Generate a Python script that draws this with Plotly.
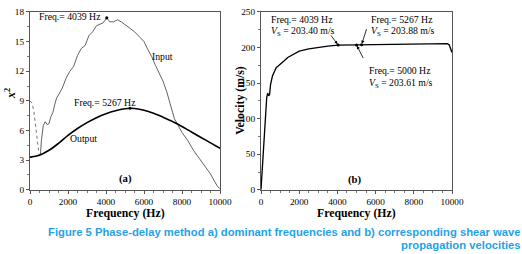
import plotly.graph_objects as go

# ---------- data ----------
# (a) dominant frequencies
input_dot_f = [0, 100, 200, 300, 400, 480, 550]
input_dot_v = [9.0, 8.8, 8.0, 6.2, 4.4, 3.5, 3.6]
input_f = [550, 600, 700, 800, 900, 1000, 1100, 1200, 1300, 1400, 1500, 1700, 1900, 2100, 2300,
           2500, 2700, 2900, 3100, 3300, 3500, 3700, 3850, 4039, 4200, 4400, 4600, 4800, 5000,
           5200, 5500, 5800, 6000, 6200, 6400, 6600, 6800, 7000, 7200, 7400, 7600, 7800, 8000,
           8300, 8600, 8900, 9200, 9500, 9700, 9850, 10000]
input_v = [3.6, 5.0, 6.5, 6.9, 6.6, 6.7, 7.4, 7.8, 8.6, 9.3, 9.6, 10.3, 11.3, 12.0, 12.5,
           13.6, 14.3, 14.6, 15.6, 16.0, 16.6, 16.8, 16.9, 17.4, 17.0, 17.0, 17.2, 17.0, 16.7,
           16.4, 16.0, 15.4, 15.0, 14.2, 13.5, 12.6, 11.8, 11.0, 9.9, 8.5, 7.2, 6.5, 5.8,
           5.0, 4.0, 3.2, 2.4, 1.6, 0.9, 0.4, 0.1]
output_f = [0, 500, 1000, 1500, 2000, 2500, 3000, 3500, 4000, 4500, 5000, 5267, 5500, 6000,
            6500, 7000, 7500, 8000, 8500, 9000, 9500, 10000]
output_v = [3.3, 3.5, 4.0, 4.7, 5.5, 6.2, 6.8, 7.3, 7.7, 8.0, 8.2, 8.25, 8.22, 8.05,
            7.75, 7.35, 6.9, 6.4, 5.85, 5.3, 4.75, 4.2]
peak_f = [4039, 5267]
peak_v = [17.4, 8.25]

# (b) shear wave velocities
vel_f = [0, 100, 200, 300, 350, 400, 450, 500, 600, 700, 800, 900, 1000, 1200, 1400, 1600,
         1800, 2000, 2500, 3000, 3500, 4039, 4500, 5000, 5267, 6000, 7000, 8000, 9000, 9500,
         9750, 9850, 9950, 10000]
vel_v = [0, 40, 95, 130, 136, 132, 134, 148, 160, 167, 172, 174, 176, 181, 186, 189,
         192, 195, 198, 200.5, 202, 203.4, 203.5, 203.61, 203.88, 204.0, 204.3, 204.6, 205.0, 205.5,
         205.5, 204, 198, 193]
mark_f = [4039, 5000, 5267]
mark_v = [203.40, 203.61, 203.88]

caption1 = "Figure 5 Phase-delay method a) dominant frequencies and b) corresponding shear wave"
caption2 = "propagation velocities"

# ---------- figure ----------
W, H = 522, 254          # design grid (reference pixels)
S = 1.026                # output scale
SERIF = "Liberation Serif"
fig = go.Figure()

fig.add_trace(go.Scatter(x=input_dot_f, y=input_dot_v, mode="lines",
                         line=dict(color="#555555", width=0.8 * S, dash="dot"),
                         xaxis="x", yaxis="y", showlegend=False))
fig.add_trace(go.Scatter(x=input_f, y=input_v, mode="lines",
                         line=dict(color="#555555", width=0.9 * S),
                         xaxis="x", yaxis="y", showlegend=False))
fig.add_trace(go.Scatter(x=output_f, y=output_v, mode="lines", line_shape="spline",
                         line=dict(color="black", width=1.6 * S),
                         xaxis="x", yaxis="y", showlegend=False))
fig.add_trace(go.Scatter(x=peak_f, y=peak_v, mode="markers",
                         marker=dict(color="black", size=3 * S),
                         xaxis="x", yaxis="y", showlegend=False))
fig.add_trace(go.Scatter(x=vel_f, y=vel_v, mode="lines",
                         line=dict(color="black", width=1.3 * S),
                         xaxis="x2", yaxis="y2", showlegend=False))
fig.add_trace(go.Scatter(x=mark_f, y=mark_v, mode="markers",
                         marker=dict(color="black", size=3 * S),
                         xaxis="x2", yaxis="y2", showlegend=False))

ydom = [67 / H, 247 / H]
axcommon = dict(showgrid=False, zeroline=False, showline=True, linecolor="#555555",
                linewidth=1, mirror=True, ticks="outside", ticklen=3 * S, tickcolor="#555555",
                tickfont=dict(family=SERIF, size=9 * S, color="black"),
                minor=dict(ticks="outside", ticklen=2 * S, tickcolor="#777777"))

fig.update_layout(
    width=round(W * S), height=round(H * S), margin=dict(l=0, r=0, t=0, b=0),
    paper_bgcolor="white", plot_bgcolor="white", showlegend=False,
    xaxis=dict(domain=[28 / W, 218 / W], range=[0, 10000], dtick=2000, tickformat="d",
               anchor="y", **axcommon),
    yaxis=dict(domain=ydom, range=[0, 18], dtick=3, anchor="x", **axcommon),
    xaxis2=dict(domain=[259 / W, 450 / W], range=[0, 10000], dtick=2000, tickformat="d",
                anchor="y2", **axcommon),
    yaxis2=dict(domain=ydom, range=[0, 250], dtick=50, anchor="x2", **axcommon),
)
fig.update_xaxes(minor_dtick=500)
fig.layout.yaxis.minor.dtick = 1.5
fig.layout.yaxis2.minor.dtick = 25

ann = []
tf = dict(family=SERIF, size=9.5 * S, color="black")
bf = dict(family=SERIF, size=11.5 * S, color="black")

def pa(x, y, text, font, **kw):
    d = dict(x=x / W, y=1 - y / H, xref="paper", yref="paper", text=text, showarrow=False,
             font=font, xanchor="center", yanchor="middle")
    d.update(kw)
    ann.append(d)

def da(x, y, text, xr, yr, font=tf, **kw):
    d = dict(x=x, y=y, xref=xr, yref=yr, text=text, showarrow=False, font=font,
             xanchor="center", yanchor="middle")
    d.update(kw)
    ann.append(d)

# axis titles
pa(123, 210, "<b>Frequency (Hz)</b>", bf)
pa(354, 210, "<b>Frequency (Hz)</b>", bf)
pa(9, 90, "<b><i>x</i><sup>2</sup></b>", bf, textangle=-90)
pa(238, 97, "<b>Velocity (m/s)</b>", bf, textangle=-90)

# panel (a) labels
da(3850, 17.5, "Freq.= 4039 Hz", "x", "y", xanchor="right")
da(3950, 8.85, "Freq.= 5267 Hz", "x", "y")
da(6950, 13.5, "Input", "x", "y")
da(2800, 5.2, "Output", "x", "y")
da(5000, 1.1, "<b>(a)</b>", "x", "y", font=dict(family=SERIF, size=10.5 * S, color="black"))

# panel (b) labels
da(420, 239, "Freq.= 4039 Hz", "x2", "y2", xanchor="left")
da(420, 223, "<i>V</i><sub>S</sub> = 203.40 m/s", "x2", "y2", xanchor="left")
da(5650, 239, "Freq.= 5267 Hz", "x2", "y2", xanchor="left")
da(5650, 223, "<i>V</i><sub>S</sub> = 203.88 m/s", "x2", "y2", xanchor="left")
da(5550, 168, "Freq.= 5000 Hz", "x2", "y2", xanchor="left")
da(5550, 150, "<i>V</i><sub>S</sub> = 203.61 m/s", "x2", "y2", xanchor="left")
da(4920, 15, "<b>(b)</b>", "x2", "y2", font=dict(family=SERIF, size=10.5 * S, color="black"))

# arrows
for (hx, hy), (tx, ty) in [((4039, 203.4), (3610, 219)),
                           ((5267, 203.88), (5550, 228)),
                           ((5000, 203.61), (5390, 183))]:
    ann.append(dict(x=hx, y=hy, xref="x2", yref="y2", ax=tx, ay=ty, axref="x2", ayref="y2",
                    text="", showarrow=True, arrowhead=2, arrowsize=0.8, arrowwidth=0.8 * S,
                    arrowcolor="black", standoff=1))

# caption
capf = dict(family="Liberation Sans", size=11 * S, color="#1fa3e6", weight="bold")
pa(521, 230, caption1, capf, xanchor="right")
pa(521, 243, caption2, capf, xanchor="right")

fig.update_layout(annotations=ann)
fig.write_html(
    "out.html", config={"displayModeBar": False},
    post_script=("var s=document.documentElement.style;s.margin='0';s.padding='0';"
                 "s.overflow='hidden';var b=document.body.style;b.margin='0';b.padding='0';"
                 "b.overflow='hidden';"))
